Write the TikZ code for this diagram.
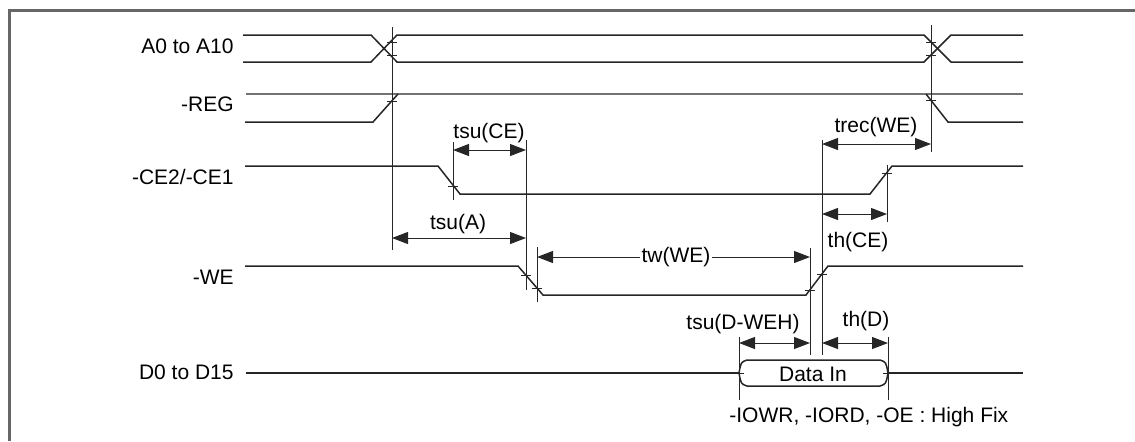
\documentclass[tikz,border=0pt]{standalone}
\usepackage{fontspec}
\setmainfont{Liberation Sans}
\usetikzlibrary{arrows.meta}

\newcommand{\tk}[2]{\draw[rf] (#1-5,#2) -- (#1+5,#2);}

\begin{document}
\begin{tikzpicture}[x=0.5pt,y=-0.5pt,font=\fontsize{10.5pt}{12pt}\selectfont,
  >={Triangle[length=8pt,width=6pt]},
  sg/.style={line width=0.75pt,black!85},
  rf/.style={line width=0.5pt,black!85},
  dm/.style={<->,line width=0.5pt,black!85},
  nm/.style={anchor=east,inner sep=0pt},
  tl/.style={inner sep=1pt}]
  \useasboundingbox (0,0) rectangle (1135,441);
  \draw[line width=1.5pt,black!60] (9,441) -- (9,10) -- (1135,10);

  \node[nm] (na) at (234,46) {A0 to A10};
  \node[nm] (nr) at (234,104) {-REG};
  \node[nm] (nc) at (234,177) {-CE2/-CE1};
  \node[nm] (nw) at (234,277) {-WE};
  \node[nm] (nd) at (234,372) {D0 to D15};

  % waveforms
  \draw[sg] (243,35) -- (371,35) -- (397,62) -- (924,62) -- (951,35) -- (1023,35);
  \draw[sg] (243,62) -- (371,62) -- (397,35) -- (924,35) -- (951,62) -- (1023,62);
  \draw[line width=1.2pt,black!55] (246,94) -- (1023,94);
  \draw[sg] (245,122) -- (373,122) -- (398,94);
  \draw[sg] (926,94) -- (948,122) -- (1023,122);
  \draw[sg] (245,166) -- (438,166) -- (460,194) -- (870,194) -- (892,166) -- (1023,166);
  \draw[sg] (245,266) -- (518,266) -- (543,295) -- (806,295) -- (828,266) -- (1023,266);
  \draw[sg] (246,373) -- (739,373);
  \draw[sg] (888,373) -- (1023,373);
  \draw[sg] (739,373) .. controls (741,362) .. (747,360) -- (880,360)
    .. controls (886,362) .. (888,373) .. controls (886,384) .. (880,386)
    -- (747,386) .. controls (741,384) .. (739,373);
  \node[tl] (din) at (813,374) {Data In};

  % reference lines
  \draw[rf] (392,27) -- (392,250);
  \draw[rf] (453,142) -- (453,200);
  \draw[rf] (526,140) -- (526,290);
  \draw[rf] (537,247) -- (537,302);
  \draw[rf] (810,248) -- (810,355);
  \draw[rf] (822,140) -- (822,355);
  \draw[rf] (887,165) -- (887,222);
  \draw[rf] (931,25) -- (931,152);
  \draw[rf] (739,337) -- (739,400);
  \draw[rf] (888,337) -- (888,400);
  \tk{392}{42} \tk{392}{55} \tk{392}{101}
  \tk{931}{42} \tk{931}{55} \tk{931}{100}
  \tk{453}{186} \tk{887}{173}
  \tk{526}{275} \tk{537}{288} \tk{810}{290} \tk{822}{274}
  \tk{739}{373} \tk{888}{373}

  % timings
  \draw[dm] (453,150) -- (526,150);
  \node[tl] (tsce) at (489,133) {tsu(CE)};
  \draw[dm] (392,238) -- (526,238);
  \node[tl] (tsa) at (458,224) {tsu(A)};
  \draw[dm] (537,257) -- (810,257);
  \node[tl,fill=white] (twe) at (676,257) {tw(WE)};
  \draw[dm] (822,144) -- (931,144);
  \node[tl] (trec) at (876,127) {trec(WE)};
  \draw[dm] (822,214) -- (887,214);
  \node[tl] (thce) at (858,242) {th(CE)};
  \draw[dm] (739,343) -- (810,343);
  \node[tl,anchor=east] (tsd) at (802,324) {tsu(D-WEH)};
  \draw[dm] (822,343) -- (888,343);
  \node[tl] (thd) at (866,321) {th(D)};
  \node[tl,anchor=west] (fix) at (727,417) {-IOWR, -IORD, -OE : High Fix};
\end{tikzpicture}
\end{document}
